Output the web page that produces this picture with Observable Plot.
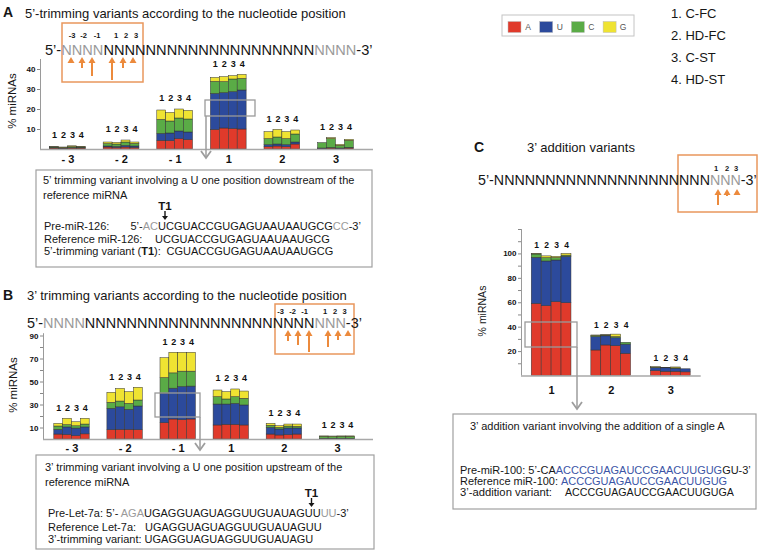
<!DOCTYPE html>
<html><head><meta charset="utf-8">
<script src="https://cdn.jsdelivr.net/npm/d3@7"></script>
<script src="https://cdn.jsdelivr.net/npm/@observablehq/plot@0.6"></script>
<style>
body{margin:0;background:#fff;}
#root{position:relative;width:763px;height:559px;overflow:hidden;font-family:"Liberation Sans",Arial,Helvetica,sans-serif;}
#root svg{position:absolute;left:0;top:0;}
</style></head><body><div id="root"></div>
<script>
// ---------- data ----------
const nts = ["A", "U", "C", "G"];
const ntColors = ["#e03a2b", "#2c4a9c", "#5aab46", "#efe332"];
const samples = ["1", "2", "3", "4"];
const sampleNames = ["1. C-FC", "2. HD-FC", "3. C-ST", "4. HD-ST"];
const trimGroups = ["- 3", "- 2", "- 1", "1", "2", "3"];
const addGroups = ["1", "2", "3"];

// 5' trimming (% miRNAs), group-major, samples 1-4
const trim5_A = [0.5,0.4,0.5,0.5, 1.0,0.8,1.0,0.8, 4.3,4.2,5.2,4.7, 9.8,10.5,10.3,10.0, 1.2,1.5,1.2,2.5, 0.3,0.5,0.3,0.5];
const trim5_U = [0.2,0.1,0.2,0.1, 0.5,0.5,0.8,0.7, 3.5,3.8,3.8,3.8, 18.0,17.7,18.4,19.5, 1.0,1.0,1.0,1.0, 0.2,0.2,0.2,0.3];
const trim5_C = [0.3,0.3,0.5,0.4, 1.2,1.2,1.7,1.3, 7.0,6.0,6.5,6.5, 6.0,5.5,6.3,5.8, 3.0,3.5,3.0,4.0, 2.7,4.5,1.3,3.5];
const trim5_G = [0.2,0.2,0.4,0.3, 0.8,0.8,1.0,0.7, 4.7,4.3,4.5,4.3, 2.0,2.5,1.7,2.0, 3.5,3.8,3.5,2.0, 0.0,0.5,0.5,0.5];

// 3' trimming
const trim3_A = [4.3,4.0,3.0,4.5, 8.1,8.4,8.4,8.1, 14.2,17.4,16.8,17.4, 12.2,12.8,12.8,12.2, 4.3,3.5,3.8,4.3, 0.3,0.3,0.3,0.3];
const trim3_U = [4.1,6.5,6.5,6.0, 18.6,19.6,17.4,20.6, 25.8,26.8,28.9,28.6, 18.2,17.6,18.2,17.4, 5.8,5.2,5.8,5.3, 0.3,0.3,0.3,0.3];
const trim3_C = [2.9,2.0,2.0,2.5, 5.2,5.0,5.2,5.2, 13.4,13.3,13.3,13.0, 6.4,4.4,5.8,5.8, 1.8,1.4,1.7,1.4, 1.8,1.7,1.8,1.8];
const trim3_G = [2.3,5.5,3.5,5.0, 8.7,11.0,10.2,11.1, 17.3,17.9,16.4,16.4, 5.8,6.4,6.7,6.3, 1.7,1.5,1.7,2.0, 0.3,0.3,0.3,0.3];

// 3' addition
const add3_A = [59.1,57.2,60.5,59.6, 20.9,25.0,24.4,18.2, 4.0,3.5,3.5,3.0];
const add3_U = [37.7,36.6,34.1,38.0, 11.0,7.5,6.5,7.5, 2.5,2.8,2.5,2.5];
const add3_C = [2.7,2.7,2.0,1.0, 1.0,0.6,1.0,1.5, 0.3,0.3,0.2,0.0];
const add3_G = [0.5,1.5,1.0,1.4, 0.3,0.3,2.0,0.0, 0.4,0.0,0.8,0.0];

const ticksA = [10, 20, 30, 40];
const ticksB = [10, 20, 30, 40, 50, 60, 70, 80, 90];
const labelsB = [10, 30, 50, 70, 90];
const ticksC = [10, 20, 30, 40, 50, 60, 70, 80, 90, 100, 110, 120];
const labelsC = [20, 40, 60, 80, 100];

// ---------- charts ----------
const FONT = '"Liberation Sans", Arial, Helvetica, sans-serif';
const root = document.getElementById("root");

function buildRows(groups, vals) {
  const out = [];
  groups.forEach((g, gi) => samples.forEach((s, si) => {
    let base = 0;
    nts.forEach(nt => {
      const v = vals[nt][gi * 4 + si];
      out.push({group: g, sample: s, nt, value: v, y1: base, y2: base + v, x1: gi * 6 + si, x2: gi * 6 + si + 1});
      base += v;
    });
  }));
  return out;
}

function panel(cfg) {
  const data = buildRows(cfg.groups, cfg.values);
  const barLabels = [];
  cfg.groups.forEach((g, gi) => {
    const tot = samples.map((s, si) => d3.sum(nts, nt => cfg.values[nt][gi * 4 + si]));
    const top = d3.max(tot);
    samples.forEach((s, si) => barLabels.push({x: gi * 6 + si + 0.5, y: top, text: s}));
  });
  const groupLabels = cfg.groups.map((g, gi) => ({x: gi * 6 + 2, y: 0, text: g}));
  return Plot.plot({
    width: 763, height: 559,
    marginLeft: cfg.xRange[0], marginRight: 763 - cfg.xRange[1],
    marginTop: cfg.yRange[1], marginBottom: 559 - cfg.yRange[0],
    x: {domain: cfg.xDomain, axis: null},
    y: {domain: cfg.yDomain},
    color: {domain: nts, range: ntColors},
    style: {background: "transparent", fontFamily: FONT, color: "#111", overflow: "visible"},
    marks: [
      Plot.rect(data, {x1: "x1", x2: "x2", y1: "y1", y2: "y2", fill: "nt", stroke: "#333", strokeWidth: 0.5}),
      Plot.ruleX([cfg.xDomain[0]], {y1: 0, y2: cfg.yDomain[1], stroke: "#9a9a9a", strokeWidth: 1}),
      Plot.ruleY([0], {stroke: "#a8a8a8", strokeWidth: 1.6}),
      Plot.axisY({ticks: cfg.ticks, tickFormat: d => cfg.labeled.includes(d) ? String(d) : "",
        tickSize: 3, tickPadding: 2, fontSize: 8, fontWeight: "bold", label: null, stroke: "#888"}),
      Plot.text(barLabels, {x: "x", y: "y", text: "text", dy: cfg.labelDy, fontSize: cfg.labelSize, fontWeight: "bold"}),
      Plot.text(groupLabels, {x: "x", y: "y", text: "text", dy: cfg.groupDy, fontSize: 11, fontWeight: "bold"})
    ]
  });
}

root.appendChild(panel({
  groups: trimGroups, values: {A: trim5_A, U: trim5_U, C: trim5_C, G: trim5_G},
  xDomain: [-1.07, 36.2], xRange: [40, 373], yDomain: [0, 45], yRange: [149, 59],
  ticks: ticksA, labeled: ticksA, labelDy: -11, labelSize: 9, groupDy: 10
}));
root.appendChild(panel({
  groups: trimGroups, values: {A: trim3_A, U: trim3_U, C: trim3_C, G: trim3_G},
  xDomain: [-1.22, 36.07], xRange: [43, 373], yDomain: [0, 92], yRange: [439, 333.2],
  ticks: ticksB, labeled: labelsB, labelDy: -11, labelSize: 9, groupDy: 9
}));
root.appendChild(panel({
  groups: addGroups, values: {A: add3_A, U: add3_U, C: add3_C, G: add3_G},
  xDomain: [-1.03, 17.06], xRange: [521, 700.7], yDomain: [0, 120], yRange: [375.5, 229],
  ticks: ticksC, labeled: labelsC, labelDy: -9, labelSize: 8.5, groupDy: 14.5
}));

// ---------- annotations ----------
const ov = [];
const BLACK = "#161616", GRAY = "#9a9a9a", ORANGE = "#ec8a3c", OBOX = "#e9975c", BLUE = "#3b55a6";
const esc = s => s.replace(/&/g, "&amp;").replace(/</g, "&lt;");
function T(x, y, parts, size, extra = "") {
  if (typeof parts === "string") parts = [[parts]];
  const spans = parts.map(([s, fill = BLACK, w = "normal"]) => `<tspan fill="${fill}" font-weight="${w}">${esc(s)}</tspan>`).join("");
  ov.push(`<text x="${x}" y="${y}" font-size="${size}" ${extra}>${spans}</text>`);
}
function R(x1, y1, x2, y2, stroke, sw) {
  ov.push(`<rect x="${x1}" y="${y1}" width="${x2 - x1}" height="${y2 - y1}" fill="none" stroke="${stroke}" stroke-width="${sw}"/>`);
}
function upArrow(x, tip, bottom) {
  if (bottom > tip + 5) ov.push(`<line x1="${x}" y1="${bottom}" x2="${x}" y2="${tip + 4}" stroke="${ORANGE}" stroke-width="2"/>`);
  ov.push(`<path d="M${x - 3.5},${tip + 6} L${x},${tip} L${x + 3.5},${tip + 6} Z" fill="${ORANGE}"/>`);
}
function downArrow(x, y1, y2) {
  ov.push(`<line x1="${x}" y1="${y1}" x2="${x}" y2="${y2 - 3}" stroke="${BLACK}" stroke-width="1.4"/>`);
  ov.push(`<path d="M${x - 3},${y2 - 4} L${x},${y2} L${x + 3},${y2 - 4} Z" fill="${BLACK}"/>`);
}
function callout(x, y1, y2) {
  ov.push(`<line x1="${x}" y1="${y1}" x2="${x}" y2="${y2}" stroke="#9d9d9d" stroke-width="1.5"/>`);
  ov.push(`<polyline points="${x - 5},${y2 - 7} ${x},${y2} ${x + 5},${y2 - 7}" fill="none" stroke="#9d9d9d" stroke-width="1.8"/>`);
}
function yLabel(x, y, size) {
  ov.push(`<text transform="translate(${x},${y}) rotate(-90)" text-anchor="middle" dy="0.35em" font-size="${size}" fill="${BLACK}">% miRNAs</text>`);
}
const N = k => "N".repeat(k);
const fit = w => `data-w="${w}"`;

// Panel A
T(3, 17, [["A", BLACK, "bold"]], 14);
T(25, 17.5, "5’-trimming variants according to the nucleotide position", 13);
R(62, 23, 143, 82, OBOX, 1.5);
[["-3", 72], ["-2", 83.5], ["-1", 97], ["1", 116], ["2", 126], ["3", 136]].forEach(([t, x]) =>
  T(x, 38, [[t, BLACK, "bold"]], 7.5, 'text-anchor="middle"'));
T(45, 55, [["5’-"], [N(4), GRAY], [N(20)], [N(4), GRAY], ["-3’"]], 14.3, fit(328));
[[71, 62], [82, 68], [92, 76], [112, 80], [123, 68], [133, 63]].forEach(([x, b]) => upArrow(x, 57, b));
yLabel(12, 101, 11.5);
R(205, 100, 255, 116, "#9a9a9a", 1.3);
callout(206, 116, 158);
R(36, 170, 372, 267, "#a0a0a0", 1.2);
T(43, 184, "5’ trimming variant involving a U one position downstream of the", 11);
T(43, 198.5, "reference miRNA", 11);
T(165, 210, [["T1", BLACK, "bold"]], 11.5, 'text-anchor="middle"');
downArrow(165, 211, 220);
T(44, 230, "Pre-miR-126:", 11);
T(130.5, 230, [["5’-"], ["AC", GRAY], ["UCGUACCGUGAGUAAUAAUGCG"], ["CC", GRAY], ["-3’"]], 11);
T(44, 242.5, "Reference miR-126:", 11);
T(155, 242.5, "UCGUACCGUGAGUAAUAAUGCG", 11);
T(44, 255, [["5’-trimming variant ("], ["T1", BLACK, "bold"], ["):"]], 11);
T(166.5, 255, "CGUACCGUGAGUAAUAAUGCG", 11);

// Panel B
T(3, 300, [["B", BLACK, "bold"]], 14);
T(27, 300, "3’ trimming variants according to the nucleotide position", 13);
R(275, 304, 354, 354, OBOX, 1.5);
[["-3", 280.5], ["-2", 292.5], ["-1", 304.5], ["1", 325], ["2", 335], ["3", 344.5]].forEach(([t, x]) =>
  T(x, 313.5, [[t, BLACK, "bold"]], 7.5, 'text-anchor="middle"'));
T(27, 328.5, [["5’-"], [N(4), GRAY], [N(22)], [N(3), GRAY], ["-3’"]], 14.3, fit(335));
[[288, 341], [298, 345], [309, 352], [328, 347], [338, 340], [348, 335]].forEach(([x, b]) => upArrow(x, 330, b));
yLabel(13, 385, 11.5);
R(155, 393, 200, 417, "#9a9a9a", 1.3);
callout(200, 417, 450);
R(36, 455, 374, 549, "#a0a0a0", 1.2);
T(45, 471, "3’ trimming variant involving a U one position upstream of the", 11);
T(45, 486, "reference miRNA", 11);
T(311.5, 497, [["T1", BLACK, "bold"]], 11.5, 'text-anchor="middle"');
downArrow(311.5, 498, 507);
T(48, 517, [["Pre-Let-7a: 5’- "], ["AGA", GRAY], ["UGAGGUAGUAGGUUGUAUAGUU"], ["UU", GRAY], ["-3’"]], 11);
T(48, 531, "Reference Let-7a:", 11);
T(145, 531, "UGAGGUAGUAGGUUGUAUAGUU", 11);
T(48, 543, "3’-trimming variant: UGAGGUAGUAGGUUGUAUAGU", 11);

// Panel C
T(474, 152, [["C", BLACK, "bold"]], 14);
T(527, 152, "3’ addition variants", 13);
R(678, 155, 757, 212, OBOX, 1.5);
[["1", 716], ["2", 727], ["3", 736]].forEach(([t, x]) =>
  T(x, 170.5, [[t, BLACK, "bold"]], 7.5, 'text-anchor="middle"'));
T(478, 185, [["5’-"], [N(21)], [N(3), GRAY], ["-3’"]], 14.3, fit(279));
[[718, 205], [727, 196], [737, 193]].forEach(([x, b]) => upArrow(x, 189, b));
yLabel(482, 311, 10.5);
R(525, 322, 577, 347, "#9a9a9a", 1.3);
callout(577, 347, 409);
R(453, 414, 756, 509, "#a0a0a0", 1.2);
T(470, 430, "3’ addition variant involving the addition of a single A", 11);
T(460, 474.5, [["Pre-miR-100: 5’-CA"], ["ACCCGUAGAUCCGAACUUGUG", BLUE], ["GU-3’"]], 10.5, fit(291));
T(460, 485.5, [["Reference miR-100: "], ["ACCCGUAGAUCCGAACUUGUG", BLUE]], 10.5, fit(267));
T(460, 496.5, "3’-addition variant:", 10.5, fit(92));
T(565, 496.5, "ACCCGUAGAUCCGAACUUGUGA", 10.5, fit(169));

// Legend
R(502, 15, 634, 36, "#c4c4c4", 1);
nts.forEach((nt, i) => {
  const x = 508 + i * 31.7;
  ov.push(`<rect x="${x}" y="${21.5}" width="13" height="11" fill="${ntColors[i]}" stroke="#bbb" stroke-width="0.5"/>`);
  T(x + 20, 30, [[nt, "#555"]], 8.5, 'text-anchor="middle"');
});
// Sample list
sampleNames.forEach((s, i) => T(671, 18 + i * 22, s, 13));

const svgNS = `<svg xmlns="http://www.w3.org/2000/svg" width="763" height="559" font-family='${FONT}'>${ov.join("")}</svg>`;
const holder = document.createElement("div");
holder.innerHTML = svgNS;
const overlay = holder.firstChild;
root.appendChild(overlay);

// stretch texts horizontally to their measured target widths
overlay.querySelectorAll("text[data-w]").forEach(el => {
  const w = +el.getAttribute("data-w");
  const len = el.getComputedTextLength();
  if (!len) return;
  const x0 = +el.getAttribute("x");
  const k = w / len;
  el.setAttribute("transform", `translate(${x0},0) scale(${k},1) translate(${-x0},0)`);
});
</script></body></html>
